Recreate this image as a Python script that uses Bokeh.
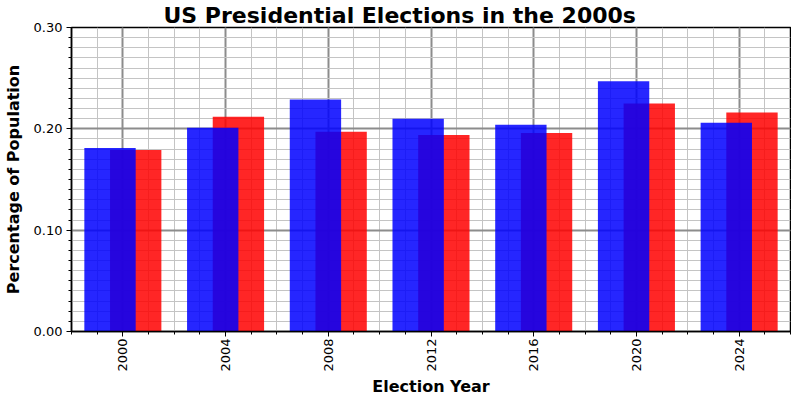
import math
from bokeh.plotting import figure
from bokeh.models import ColumnDataSource, FixedTicker, NumeralTickFormatter, Range1d, Title
from bokeh.transform import dodge
from bokeh.embed import file_html
from bokeh.resources import INLINE

years = [2000, 2004, 2008, 2012, 2016, 2020, 2024]
blue_share = [0.181, 0.201, 0.229, 0.210, 0.204, 0.247, 0.206]
red_share = [0.179, 0.212, 0.197, 0.194, 0.196, 0.225, 0.216]
minor_years = list(range(1998, 2027))
y_ticks = [0.0, 0.1, 0.2, 0.3]
y_minor = [i / 100 for i in range(0, 31)]

src = ColumnDataSource(dict(year=years, blue=blue_share, red=red_share))

p = figure(frame_width=719, frame_height=304, output_backend="svg", toolbar_location=None,
           x_range=Range1d(1998, 2026), y_range=Range1d(0, 0.30),
           min_border_left=64, min_border_right=1, min_border_top=0, min_border_bottom=0)

p.vbar(x=dodge("year", 0.5), top="red", width=2, bottom=0, source=src,
       fill_color="red", fill_alpha=0.85, line_color=None)
p.vbar(x=dodge("year", -0.5), top="blue", width=2, bottom=0, source=src,
       fill_color="blue", fill_alpha=0.85, line_color=None)

p.xaxis.ticker = FixedTicker(ticks=years, minor_ticks=minor_years)
p.yaxis.ticker = FixedTicker(ticks=y_ticks, minor_ticks=y_minor)
p.yaxis.formatter = NumeralTickFormatter(format="0.00")

for g in (p.xgrid, p.ygrid):
    g.grid_line_color = "#8c8c8c"
    g.grid_line_width = 2
    g.minor_grid_line_color = "#c4c4c4"
    g.minor_grid_line_width = 1

p.outline_line_color = "black"
p.outline_line_width = 1.5
p.background_fill_color = "white"

for ax in (p.xaxis, p.yaxis):
    ax.axis_line_color = "black"
    ax.axis_line_width = 1.5
    ax.major_tick_line_color = "black"
    ax.minor_tick_line_color = "black"
    ax.major_tick_out = 5
    ax.major_tick_in = 0
    ax.minor_tick_out = 3
    ax.minor_tick_in = 0
    ax.major_label_text_font = "DejaVu Sans"
    ax.major_label_text_font_size = "13px"
    ax.major_label_text_color = "black"
    ax.axis_label_text_font = "DejaVu Sans"
    ax.axis_label_text_font_size = "16px"
    ax.axis_label_text_font_style = "bold"
    ax.axis_label_text_color = "black"

p.xaxis.major_label_orientation = math.pi / 2
p.xaxis.major_label_standoff = 2
p.yaxis.axis_label = "Percentage of Population"
p.yaxis.major_label_standoff = 4
p.yaxis.axis_label_standoff = 8

xlabel = Title(text="Election Year", align="center", text_font="DejaVu Sans",
               text_font_size="16px", text_font_style="bold", text_color="black",
               offset=0, standoff=0)
p.add_layout(xlabel, "below")

title = Title(text="US Presidential Elections in the 2000s", align="left",
              text_font="DejaVu Sans", text_font_size="22px", text_font_style="bold",
              text_color="black", offset=92, standoff=0)
p.add_layout(title, "above")

open("out.html", "w").write(file_html(p, INLINE))
